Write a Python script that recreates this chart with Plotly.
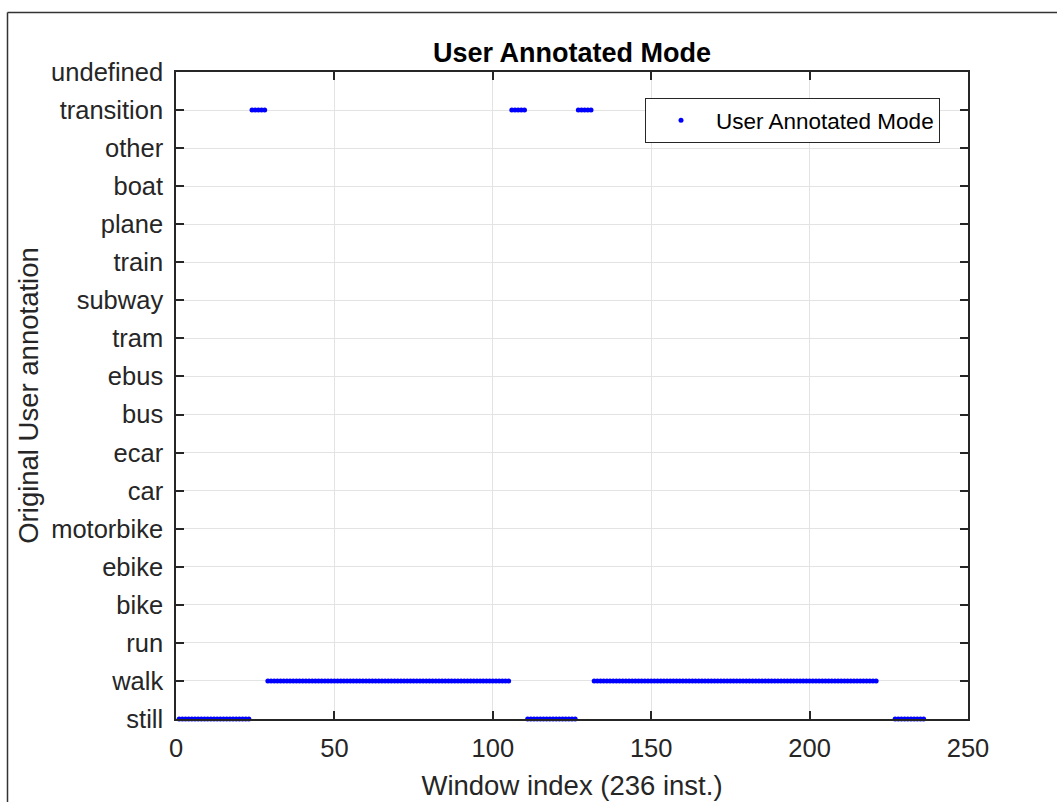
import plotly.graph_objects as go

# Category labels (bottom to top)
categories = ["still", "walk", "run", "bike", "ebike", "motorbike", "car", "ecar",
              "bus", "ebus", "tram", "subway", "train", "plane", "boat", "other",
              "transition", "undefined"]

# Run-length segments of the annotated mode (window indices, inclusive)
seg_start = [1, 24, 29, 106, 111, 127, 132, 227]
seg_end = [23, 28, 105, 110, 126, 131, 221, 236]
seg_mode = ["still", "transition", "walk", "transition", "still", "transition", "walk", "still"]
n_windows = 236

x_vals = []
y_vals = []
for s, e, m in zip(seg_start, seg_end, seg_mode):
    for i in range(s, e + 1):
        x_vals.append(i)
        y_vals.append(categories.index(m) + 1)

FONT = "Liberation Sans, Arial, sans-serif"
AX = "#262626"
GRID = "#e3e3e3"

fig = go.Figure()
fig.add_trace(go.Scatter(
    x=x_vals, y=y_vals, mode="markers", name="User Annotated Mode",
    marker=dict(color="#0000ff", size=5, line=dict(width=0)),
    cliponaxis=False,
))

fig.update_layout(
    width=1057, height=802,
    margin=dict(l=176, r=89, t=72, b=83),
    paper_bgcolor="white", plot_bgcolor="white",
    font=dict(family=FONT, color=AX),
    title=dict(text="<b>User Annotated Mode</b>", x=(176 + 968) / 2 / 1057, xanchor="center",
               y=1 - 53 / 802, yanchor="middle", font=dict(size=27, color="black", family=FONT)),
    showlegend=True,
    legend=dict(x=(645 - 176) / 792, y=(719 - 98) / 647, xanchor="left", yanchor="top",
                bgcolor="white", bordercolor=AX, borderwidth=1,
                font=dict(size=22.5, color="black", family=FONT), itemwidth=60),
    xaxis=dict(range=[0, 250], tickvals=[0, 50, 100, 150, 200, 250], automargin=False,
               ticks="inside", ticklen=8, tickwidth=1.5, tickcolor=AX,
               showline=True, linecolor=AX, linewidth=1.5, mirror="ticks",
               showgrid=True, gridcolor=GRID, gridwidth=1, zeroline=False,
               tickfont=dict(size=25.5, color=AX), ticklabelstandoff=6,
               title=dict(text="Window index (236 inst.)", font=dict(size=27.5, color=AX), standoff=14)),
    yaxis=dict(range=[1, 18], tickvals=list(range(1, 19)), ticktext=categories, automargin=False,
               ticks="inside", ticklen=8, tickwidth=1.5, tickcolor=AX,
               showline=True, linecolor=AX, linewidth=1.5, mirror="ticks",
               showgrid=True, gridcolor=GRID, gridwidth=1, zeroline=False,
               tickfont=dict(size=25.5, color=AX), ticklabelstandoff=6,
               title=dict(text="Original User annotation", font=dict(size=27.5, color=AX), standoff=4)),
)

# Outer figure frame (left and top edges)
fl = (7.5 - 176) / 792
ft = (719 - 12.5) / 647
fig.add_shape(type="line", xref="paper", yref="paper", x0=fl, x1=fl, y0=ft, y1=-0.2,
              line=dict(color="#333333", width=1.5))
fig.add_shape(type="line", xref="paper", yref="paper", x0=fl, x1=1.2, y0=ft, y1=ft,
              line=dict(color="#333333", width=1.5))

fig.write_html("out.html")
